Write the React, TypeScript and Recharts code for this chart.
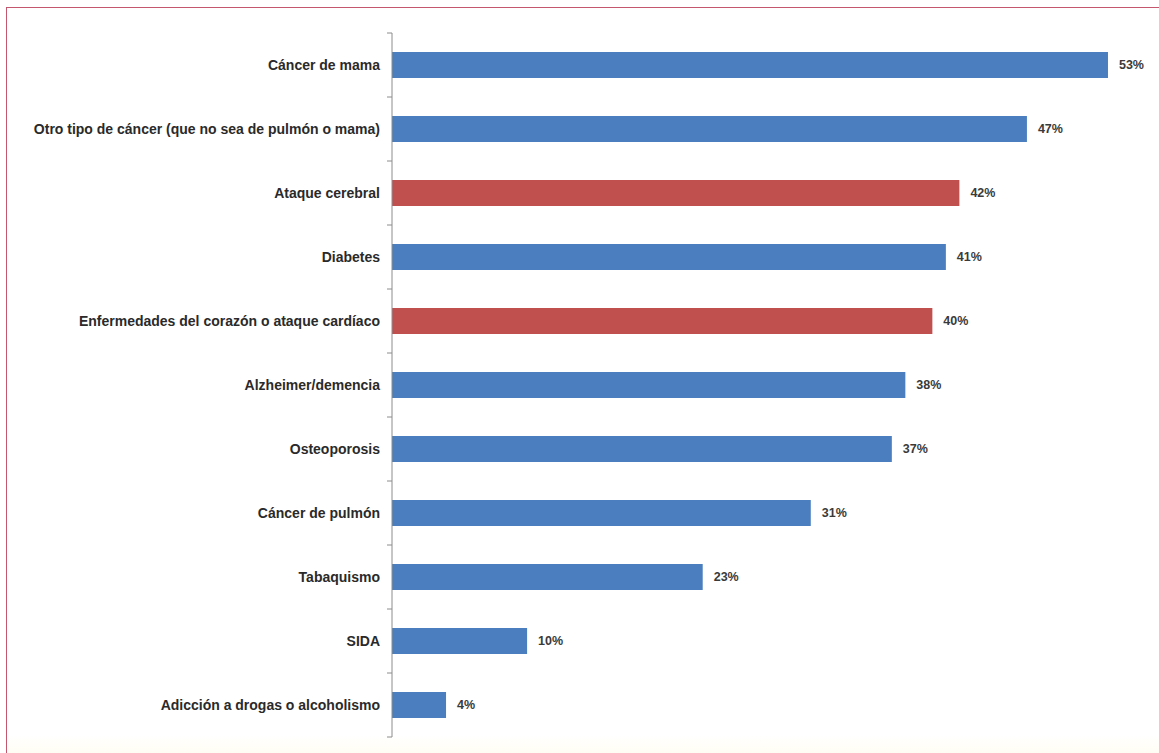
import React from 'react';
import { BarChart, Bar, XAxis, YAxis, Cell, LabelList } from 'recharts';

// survey results, top to bottom as in the picture
const categories = [
  'Cáncer de mama',
  'Otro tipo de cáncer (que no sea de pulmón o mama)',
  'Ataque cerebral',
  'Diabetes',
  'Enfermedades del corazón o ataque cardíaco',
  'Alzheimer/demencia',
  'Osteoporosis',
  'Cáncer de pulmón',
  'Tabaquismo',
  'SIDA',
  'Adicción a drogas o alcoholismo',
];
const percents = [53, 47, 42, 41, 40, 38, 37, 31, 23, 10, 4];
const highlighted = [false, false, true, false, true, false, false, false, false, false, false];

const BLUE = '#4a7ebf';
const RED = '#c0504d';

const W = 1159;
const H = 753;
const TOP = 33;
const BOTTOM = 16;
const band = (H - TOP - BOTTOM) / categories.length;

const data = categories.map((name, i) => ({
  name,
  value: percents[i],
  hi: highlighted[i],
}));

function CatTick(props: any) {
  const { x, y, payload, index } = props;
  return (
    <g>
      <line x1={x - 5} x2={x} y1={y - band / 2} y2={y - band / 2} stroke="#8c8c8c" />
      {index === categories.length - 1 && (
        <line x1={x - 5} x2={x} y1={y + band / 2} y2={y + band / 2} stroke="#8c8c8c" />
      )}
      <text
        x={x - 12}
        y={y}
        dy={5}
        textAnchor="end"
        fontSize={14}
        fontWeight="bold"
        fill="#2a2a2a"
        fontFamily="'Liberation Sans', Arial, sans-serif"
      >
        {payload.value}
      </text>
    </g>
  );
}

export default function App() {
  return (
    <div style={{ position: 'absolute', left: 0, top: 0, width: W, height: H, overflow: 'hidden', background: '#fff' }}>
      {/* frame */}
      <div
        style={{
          position: 'absolute',
          left: 6,
          top: 7,
          width: W + 20,
          height: H + 20,
          border: '1px solid #c4566e',
          boxSizing: 'border-box',
        }}
      />
      <div
        style={{
          position: 'absolute',
          left: 7,
          top: 735,
          width: W,
          height: 20,
          background: 'linear-gradient(#ffffff, #fffdf2)',
        }}
      />
      <div style={{ position: 'absolute', left: 0, top: 0 }}>
        <BarChart
          width={W}
          height={H}
          data={data}
          layout="vertical"
          margin={{ top: TOP, right: 24, bottom: BOTTOM, left: 0 }}
          barSize={26}
        >
          <XAxis type="number" domain={[0, 55]} hide />
          <YAxis
            type="category"
            dataKey="name"
            width={392}
            tickLine={false}
            tickSize={0}
            tickMargin={0}
            axisLine={{ stroke: '#8c8c8c' }}
            tick={<CatTick />}
            interval={0}
          />
          <Bar dataKey="value" isAnimationActive={false}>
            {data.map((d, i) => (
              <Cell key={i} fill={d.hi ? RED : BLUE} />
            ))}
            <LabelList
              dataKey="value"
              position="right"
              offset={11}
              formatter={(v: any) => `${v}%`}
              style={{ fontSize: 12.5, fontWeight: 'bold', fill: '#3a3a3a', fontFamily: "'Liberation Sans', Arial, sans-serif" }}
            />
          </Bar>
        </BarChart>
      </div>
    </div>
  );
}
